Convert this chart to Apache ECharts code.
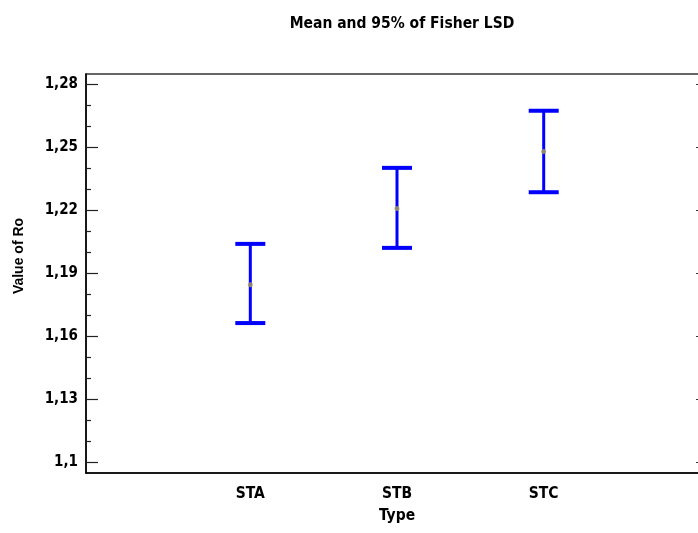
<!DOCTYPE html>
<html>
<head>
<meta charset="utf-8">
<script src="https://cdn.jsdelivr.net/npm/echarts@6/dist/echarts.min.js"></script>
<style>
  html, body { margin: 0; padding: 0; background: #fff; }
  #chart { width: 698px; height: 533px; }
</style>
</head>
<body>
<div id="chart"></div>
<script>
// data
var categories = ['STA', 'STB', 'STC'];
var means = [1.1846, 1.2209, 1.2481];
var lower = [1.1664, 1.2022, 1.2287];
var upper = [1.2041, 1.2403, 1.2675];
var yTicks = [1.1, 1.13, 1.16, 1.19, 1.22, 1.25, 1.28];

var narrow = '"Liberation Sans Narrow", "DejaVu Sans Condensed", "Liberation Sans", Arial, sans-serif';

var minorTicks = [];
for (var i = 0; i < yTicks.length - 1; i++) {
    minorTicks.push(+(yTicks[i] + 0.01).toFixed(2), +(yTicks[i] + 0.02).toFixed(2));
}

var barData = categories.map(function (c, i) { return [i + 1, lower[i], upper[i]]; });
var meanData = categories.map(function (c, i) { return [i + 1, means[i]]; });

var myChart = echarts.init(document.getElementById('chart'));

var gridBox = { left: 86, top: 74, right: -10, bottom: 60, outerBoundsMode: 'none' };
var yRange = { min: 1.095, max: 1.285 };

var option = {
    backgroundColor: '#fff',
    animation: false,
    title: {
        text: 'Mean and 95% of Fisher LSD',
        left: 397, top: 11, textAlign: 'center',
        textStyle: { fontFamily: narrow, fontWeight: 'bold', fontSize: 15.5, color: '#000' }
    },
    grid: [
        Object.assign({ show: true, borderColor: '#333', borderWidth: 1.5 }, gridBox),
        Object.assign({ show: false }, gridBox),
        Object.assign({ show: false }, gridBox)
    ],
    graphic: [{
        type: 'text', x: 19, y: 256, rotation: Math.PI / 2,
        style: {
            text: 'Value of Ro', fill: '#000', align: 'center', verticalAlign: 'middle',
            font: 'bold 14px "Liberation Sans", Arial, sans-serif'
        }
    }],
    xAxis: [{
        gridIndex: 0, type: 'value', min: -0.12, max: 4.12,
        splitLine: { show: false },
        axisLine: { show: true, lineStyle: { color: '#000', width: 1.5 } },
        axisTick: { show: false },
        axisLabel: {
            customValues: [1, 2, 3],
            formatter: function (v) { return categories[Math.round(v) - 1] || ''; },
            margin: 13, color: '#000', fontFamily: narrow, fontWeight: 'bold', fontSize: 15.5
        },
        name: 'Type', nameLocation: 'middle', nameGap: 35,
        nameTextStyle: { color: '#000', fontFamily: narrow, fontWeight: 'bold', fontSize: 15.5 }
    }, {
        gridIndex: 1, type: 'value', show: false, min: 0, max: 1
    }, {
        gridIndex: 2, type: 'value', show: false, min: 0, max: 1
    }],
    yAxis: [Object.assign({
        gridIndex: 0, type: 'value', position: 'left',
        splitLine: { show: false },
        axisLine: { show: true, onZero: false, lineStyle: { color: '#000', width: 1.5 } },
        axisTick: { show: true, inside: true, length: 12, customValues: yTicks, lineStyle: { color: '#222', width: 1.2 } },
        axisLabel: {
            customValues: yTicks,
            formatter: function (v) { return String(+v.toFixed(2)).replace('.', ','); },
            margin: 8, color: '#000', fontFamily: narrow, fontWeight: 'bold', fontSize: 15
        }
    }, yRange), Object.assign({
        gridIndex: 1, type: 'value', position: 'left',
        splitLine: { show: false },
        axisLine: { show: false },
        axisTick: { show: true, inside: true, length: 5, customValues: minorTicks, lineStyle: { color: '#222', width: 1.2 } },
        axisLabel: { show: false }
    }, yRange), Object.assign({
        gridIndex: 2, type: 'value', position: 'right',
        splitLine: { show: false },
        axisLine: { show: true, onZero: false, lineStyle: { color: '#333', width: 1.5 } },
        axisTick: { show: true, inside: true, length: 12, customValues: yTicks, lineStyle: { color: '#333', width: 1.2 } },
        axisLabel: { show: false }
    }, yRange)],
    series: [{
        type: 'custom',
        data: barData,
        z: 3,
        renderItem: function (params, api) {
            var x = api.value(0);
            var lo = api.coord([x, api.value(1)]);
            var hi = api.coord([x, api.value(2)]);
            var hw = 15;
            var st = { stroke: '#0000ff', lineWidth: 3 };
            var cap = { stroke: '#0000ff', lineWidth: 4 };
            return {
                type: 'group',
                children: [
                    { type: 'line', shape: { x1: lo[0], y1: lo[1], x2: hi[0], y2: hi[1] }, style: st },
                    { type: 'line', shape: { x1: hi[0] - hw, y1: hi[1], x2: hi[0] + hw, y2: hi[1] }, style: cap },
                    { type: 'line', shape: { x1: lo[0] - hw, y1: lo[1], x2: lo[0] + hw, y2: lo[1] }, style: cap }
                ]
            };
        }
    }, {
        type: 'scatter',
        data: meanData,
        z: 4,
        symbol: 'circle',
        symbolSize: 5,
        itemStyle: { color: '#a39668', opacity: 0.85 }
    }]
};

myChart.setOption(option);
</script>
</body>
</html>
